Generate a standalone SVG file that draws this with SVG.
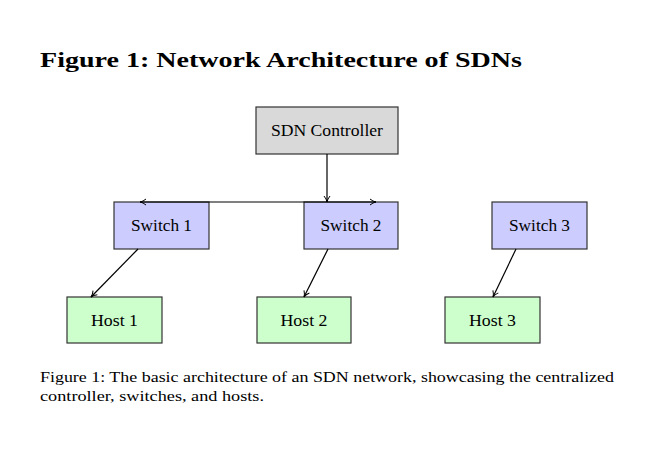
<svg xmlns="http://www.w3.org/2000/svg" width="647" height="457" viewBox="0 0 647 457">
<style>
text{font-family:"Liberation Serif","DejaVu Serif",serif;fill:#000}
.lbl{font-size:16.5px;text-anchor:middle}
.box{stroke:#333;stroke-width:1.2}
.ctrl{fill:#d9d9d9}
.sw{fill:#ccccff}
.host{fill:#ccffcc}
.edge{stroke:#000;stroke-width:1.2;fill:none}
</style>
<defs>
<marker id="arr" markerWidth="8" markerHeight="8" refX="7" refY="4" orient="auto" markerUnits="userSpaceOnUse">
<path d="M1,1 Q4,3.5 7,4 Q4,4.5 1,7" fill="none" stroke="#000" stroke-width="1"/>
</marker>
</defs>
<rect width="647" height="457" fill="#fff"/>
<text x="40" y="67" font-size="21" font-weight="bold" textLength="482" lengthAdjust="spacingAndGlyphs">Figure 1: Network Architecture of SDNs</text>
<g id="controller"><rect class="box ctrl" x="256" y="107" width="142" height="47"/><text class="lbl" x="327" y="136" textLength="112" lengthAdjust="spacingAndGlyphs">SDN Controller</text></g>
<g id="switch1"><rect class="box sw" x="114" y="202" width="95" height="47"/><text class="lbl" x="161.5" y="231" textLength="61" lengthAdjust="spacingAndGlyphs">Switch 1</text></g>
<g id="switch2"><rect class="box sw" x="304" y="202" width="94" height="47"/><text class="lbl" x="351" y="231" textLength="61" lengthAdjust="spacingAndGlyphs">Switch 2</text></g>
<g id="switch3"><rect class="box sw" x="492" y="202" width="95" height="47"/><text class="lbl" x="539.5" y="231" textLength="61" lengthAdjust="spacingAndGlyphs">Switch 3</text></g>
<g id="host1"><rect class="box host" x="67" y="297" width="95" height="46"/><text class="lbl" x="114.5" y="326" textLength="47" lengthAdjust="spacingAndGlyphs">Host 1</text></g>
<g id="host2"><rect class="box host" x="257" y="297" width="94" height="46"/><text class="lbl" x="304" y="326" textLength="47" lengthAdjust="spacingAndGlyphs">Host 2</text></g>
<g id="host3"><rect class="box host" x="445" y="297" width="95" height="46"/><text class="lbl" x="492.5" y="326" textLength="47" lengthAdjust="spacingAndGlyphs">Host 3</text></g>
<g id="connectors">
<line class="edge" x1="327" y1="154" x2="327" y2="202" marker-end="url(#arr)"/>
<line class="edge" x1="209" y1="202" x2="140" y2="202" marker-end="url(#arr)"/>
<line class="edge" x1="209" y1="202" x2="376" y2="202" marker-end="url(#arr)"/>
<line class="edge" x1="138" y1="249" x2="91" y2="297" marker-end="url(#arr)"/>
<line class="edge" x1="328" y1="249" x2="304" y2="297" marker-end="url(#arr)"/>
<line class="edge" x1="516" y1="249" x2="493" y2="297" marker-end="url(#arr)"/>
</g>
<text x="40" y="382" font-size="15.5" textLength="574" lengthAdjust="spacingAndGlyphs">Figure 1: The basic architecture of an SDN network, showcasing the centralized</text>
<text x="40" y="401" font-size="15.5" textLength="224" lengthAdjust="spacingAndGlyphs">controller, switches, and hosts.</text>
</svg>
